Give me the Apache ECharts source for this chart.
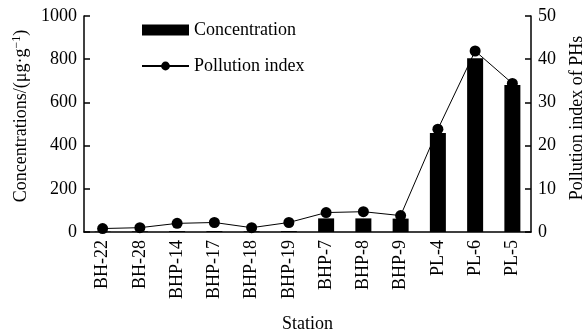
<!DOCTYPE html>
<html>
<head>
<meta charset="utf-8">
<script src="https://cdn.jsdelivr.net/npm/echarts@6/dist/echarts.min.js"></script>
<style>html,body{margin:0;padding:0;background:#fff;}#c{width:582px;height:335px;}</style>
</head>
<body>
<div id="c"></div>
<script>
const stations = ['BH-22','BH-28','BHP-14','BHP-17','BHP-18','BHP-19','BHP-7','BHP-8','BHP-9','PL-4','PL-6','PL-5'];
const concentration = [2, 3, 4, 4, 3, 4, 63, 63, 62, 458, 804, 680];
const pollutionIndex = [0.8, 1.0, 2.0, 2.2, 1.0, 2.2, 4.5, 4.7, 3.8, 23.8, 41.9, 34.4];
const leftTicks = {min: 0, max: 1000, interval: 200};
const rightTicks = {min: 0, max: 50, interval: 10};

const FONT = 'Liberation Serif';
const FS = 18;
const chart = echarts.init(document.getElementById('c'));
chart.setOption({
  animation: false,
  textStyle: {fontFamily: FONT, color: '#000'},
  grid: {left: 84, right: 51, top: 16, bottom: 103, containLabel: false, outerBoundsMode: 'none'},
  legend: {
    orient: 'vertical', left: 136, top: 16, itemGap: 18,
    itemWidth: 47, itemHeight: 11,
    textStyle: {fontFamily: FONT, fontSize: FS, color: '#000'},
    data: [
      {name: 'Concentration', icon: 'rect'},
      {name: 'Pollution index'}
    ]
  },
  xAxis: {
    type: 'category', data: stations,
    name: 'Station', nameLocation: 'middle', nameGap: 83,
    nameTextStyle: {fontFamily: FONT, fontSize: FS, color: '#000'},
    axisLine: {lineStyle: {color: '#000', width: 1.5}},
    axisTick: {show: false},
    axisLabel: {rotate: 90, margin: 8, fontFamily: FONT, fontSize: FS, color: '#000'}
  },
  yAxis: [
    {
      type: 'value', min: leftTicks.min, max: leftTicks.max, interval: leftTicks.interval,
      name: 'Concentrations/(μg·g{sup|−1})', nameLocation: 'middle', nameGap: 48, nameRotate: 90,
      nameTextStyle: {fontFamily: FONT, fontSize: FS, color: '#000', padding: [0, 0, 0, 16],
        rich: {sup: {fontFamily: FONT, fontSize: 12, color: '#000', padding: [0,0,9,0]}}},
      axisLine: {show: true, lineStyle: {color: '#000', width: 1.5}},
      axisTick: {show: true, inside: true, length: 6, lineStyle: {color: '#000', width: 1.5}},
      axisLabel: {margin: 7, fontFamily: FONT, fontSize: FS, color: '#000', formatter: v => String(v)},
      splitLine: {show: false}
    },
    {
      type: 'value', min: rightTicks.min, max: rightTicks.max, interval: rightTicks.interval,
      name: 'Pollution index of PHs', nameLocation: 'middle', nameGap: 37, nameRotate: 90,
      nameTextStyle: {fontFamily: FONT, fontSize: FS, color: '#000', padding: [0, 0, 0, 12]},
      axisLine: {show: true, lineStyle: {color: '#000', width: 1.5}},
      axisTick: {show: true, inside: true, length: 6, lineStyle: {color: '#000', width: 1.5}},
      axisLabel: {margin: 7, fontFamily: FONT, fontSize: FS, color: '#000', formatter: v => String(v)},
      splitLine: {show: false}
    }
  ],
  series: [
    {
      name: 'Concentration', type: 'bar', yAxisIndex: 0, data: concentration,
      barWidth: 16, itemStyle: {color: '#000'}
    },
    {
      name: 'Pollution index', type: 'line', yAxisIndex: 1, data: pollutionIndex,
      symbol: 'circle', symbolSize: 11,
      lineStyle: {color: '#000', width: 1}, itemStyle: {color: '#000'}
    }
  ]
});
</script>
</body>
</html>
